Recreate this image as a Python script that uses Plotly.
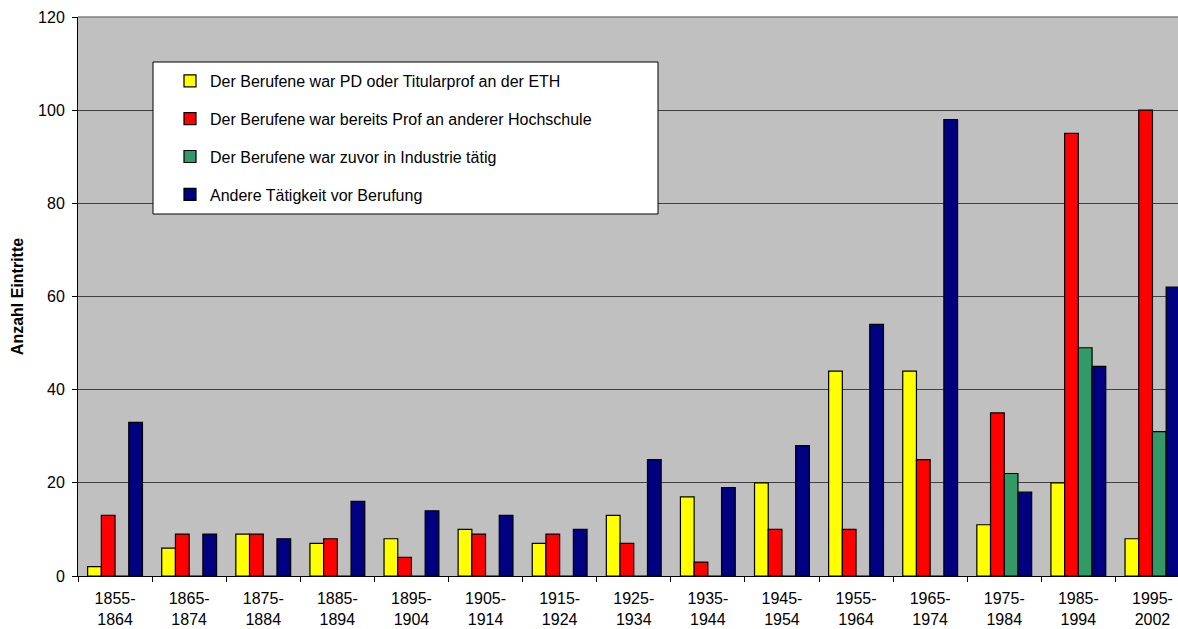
import plotly.graph_objects as go

categories = ["1855-<br>1864", "1865-<br>1874", "1875-<br>1884", "1885-<br>1894", "1895-<br>1904",
              "1905-<br>1914", "1915-<br>1924", "1925-<br>1934", "1935-<br>1944", "1945-<br>1954",
              "1955-<br>1964", "1965-<br>1974", "1975-<br>1984", "1985-<br>1994", "1995-<br>2002"]

pd_eth = [2, 6, 9, 7, 8, 10, 7, 13, 17, 20, 44, 44, 11, 20, 8]
prof_andere = [13, 9, 9, 8, 4, 9, 9, 7, 3, 10, 10, 25, 35, 95, 100]
industrie = [0, 0, 0, 0, 0, 0, 0, 0, 0, 0, 0, 0, 22, 49, 31]
andere = [33, 9, 8, 16, 14, 13, 10, 25, 19, 28, 54, 98, 18, 45, 62]

series_names = ["Der Berufene war PD oder Titularprof an der ETH",
                "Der Berufene war bereits Prof an anderer Hochschule",
                "Der Berufene war zuvor in Industrie tätig",
                "Andere Tätigkeit vor Berufung"]
colors = ["#FFFF00", "#FF0000", "#339966", "#000080"]

FONT = "Arial, Liberation Sans, sans-serif"

fig = go.Figure()
for i, (name, vals, col) in enumerate(zip(series_names, [pd_eth, prof_andere, industrie, andere], colors)):
    fig.add_trace(go.Bar(
        x=categories, y=vals, name=name, legendgroup=f"g{i}",
        marker=dict(color=col, line=dict(color="#000000", width=1.2)),
    ))

L, T, B = 78, 17, 53
W, H = 1178, 629
pw = W - L
ph = H - T - B

fig.update_layout(
    width=W, height=H,
    margin=dict(l=L, r=0, t=T, b=B, pad=0, autoexpand=False),
    paper_bgcolor="white",
    plot_bgcolor="#C0C0C0",
    barmode="group",
    bargap=0.26,
    bargroupgap=0,
    font=dict(family=FONT, size=16, color="#000000"),
    showlegend=True,
    legend=dict(
        x=(170 - L) / pw, y=(H - B - 64) / ph, xanchor="left", yanchor="top",
        bgcolor="rgba(0,0,0,0)", borderwidth=0,
        tracegroupgap=14,
        font=dict(family=FONT, size=16, color="#000000"),
    ),
    xaxis=dict(
        range=[-0.5, -0.5 + pw / 74.1], automargin=False,
        tickson="boundaries", ticks="outside", ticklen=5, tickcolor="#000000",
        showline=True, linecolor="#000000", linewidth=1,
        showgrid=False, tickfont=dict(size=16), ticklabelstandoff=8,
    ),
    yaxis=dict(
        range=[0, 120], dtick=20, ticks="outside", ticklen=5, tickcolor="#000000",
        showline=True, linecolor="#000000", linewidth=1, automargin=False,
        showgrid=True, gridcolor="#404040", gridwidth=1,
        zeroline=False, tickfont=dict(size=16), ticklabelstandoff=4,
        title=dict(text="<b>Anzahl Eintritte</b>", font=dict(size=16), standoff=10),
    ),
    shapes=[
        dict(type="line", xref="paper", yref="paper", x0=0, x1=1, y0=1, y1=1,
             line=dict(color="#808080", width=1.5), layer="above"),
        dict(type="rect", xref="paper", yref="paper",
             x0=(153 - L) / pw, x1=(658 - L) / pw,
             y0=(H - B - 214) / ph, y1=(H - B - 62) / ph,
             fillcolor="white", line=dict(color="#000000", width=1), layer="above"),
    ],
)

fig.write_html("out.html", config={"displayModeBar": False},
               post_script="document.body.style.margin='0px';document.body.style.overflow='hidden';")
